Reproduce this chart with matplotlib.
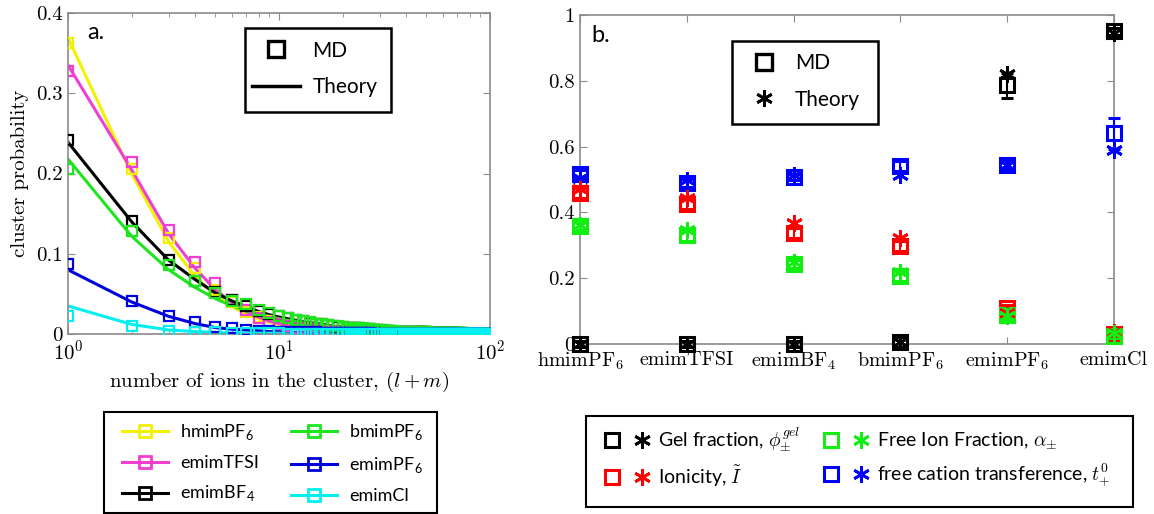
import matplotlib
matplotlib.use('Agg')
import matplotlib.pyplot as plt
from matplotlib.lines import Line2D
from matplotlib.patches import Rectangle
from matplotlib.legend_handler import HandlerTuple

plt.rcParams['mathtext.fontset'] = 'cm'
plt.rcParams['font.family'] = ['Lato', 'DejaVu Sans']
plt.rcParams['axes.formatter.use_mathtext'] = True

# ---------------- panel a data ----------------
ion_names = ['hmimPF$_\\mathregular{6}$', 'emimTFSI', 'emimBF$_\\mathregular{4}$',
             'bmimPF$_\\mathregular{6}$', 'emimPF$_\\mathregular{6}$', 'emimCl']
ion_colors = ['#F2F200', '#F03FD0', '#000000', '#1EE61E', '#0000DD', '#00F0F0']

cluster_n = list(range(1, 101))
md_hmim = [0.362, 0.205, 0.120, 0.082, 0.055, 0.040, 0.028, 0.021, 0.016, 0.012,
           0.010, 0.008, 0.007, 0.006, 0.005, 0.004, 0.004, 0.003, 0.003, 0.002,
           0.002, 0.002, 0.002, 0.002, 0.001, 0.001, 0.001, 0.001, 0.001, 0.001,
           0.001, 0.001, 0.001, 0.001, 0.001, 0.001, 0.001, 0.001, 0.001, 0.001,
           0.001, 0.001, 0.001, 0.001, 0.001, 0.000, 0.000, 0.000, 0.000, 0.000,
           0.000, 0.000, 0.000, 0.000, 0.000, 0.000, 0.000, 0.000, 0.000, 0.000,
           0.000, 0.000, 0.000, 0.000, 0.000, 0.000, 0.000, 0.000, 0.000, 0.000,
           0.000, 0.000, 0.000, 0.000, 0.000, 0.000, 0.000, 0.000, 0.000, 0.000,
           0.000, 0.000, 0.000, 0.000, 0.000, 0.000, 0.000, 0.000, 0.000, 0.000,
           0.000, 0.000, 0.000, 0.000, 0.000, 0.000, 0.000, 0.000, 0.000, 0.000]
md_emimtfsi = [0.328, 0.214, 0.130, 0.090, 0.064, 0.042, 0.030, 0.020, 0.015, 0.012,
               0.010, 0.008, 0.007, 0.006, 0.005, 0.004, 0.004, 0.003, 0.003, 0.003,
               0.002, 0.002, 0.002, 0.002, 0.002, 0.001, 0.001, 0.001, 0.001, 0.001,
               0.001, 0.001, 0.001, 0.001, 0.001, 0.001, 0.001, 0.001, 0.001, 0.001,
               0.001, 0.001, 0.001, 0.001, 0.001, 0.001, 0.001, 0.001, 0.000, 0.000,
               0.000, 0.000, 0.000, 0.000, 0.000, 0.000, 0.000, 0.000, 0.000, 0.000,
               0.000, 0.000, 0.000, 0.000, 0.000, 0.000, 0.000, 0.000, 0.000, 0.000,
               0.000, 0.000, 0.000, 0.000, 0.000, 0.000, 0.000, 0.000, 0.000, 0.000,
               0.000, 0.000, 0.000, 0.000, 0.000, 0.000, 0.000, 0.000, 0.000, 0.000,
               0.000, 0.000, 0.000, 0.000, 0.000, 0.000, 0.000, 0.000, 0.000, 0.000]
md_emimbf4 = [0.242, 0.141, 0.092, 0.066, 0.052, 0.042, 0.035, 0.029, 0.025, 0.022,
              0.020, 0.018, 0.016, 0.014, 0.013, 0.012, 0.011, 0.010, 0.009, 0.009,
              0.008, 0.008, 0.007, 0.007, 0.006, 0.006, 0.006, 0.005, 0.005, 0.005,
              0.004, 0.004, 0.004, 0.004, 0.003, 0.003, 0.003, 0.003, 0.003, 0.003,
              0.002, 0.002, 0.002, 0.002, 0.002, 0.002, 0.002, 0.002, 0.002, 0.002,
              0.001, 0.001, 0.001, 0.001, 0.001, 0.001, 0.001, 0.001, 0.001, 0.001,
              0.001, 0.001, 0.001, 0.001, 0.001, 0.001, 0.001, 0.001, 0.001, 0.001,
              0.001, 0.001, 0.000, 0.000, 0.000, 0.000, 0.000, 0.000, 0.000, 0.000,
              0.000, 0.000, 0.000, 0.000, 0.000, 0.000, 0.000, 0.000, 0.000, 0.000,
              0.000, 0.000, 0.000, 0.000, 0.000, 0.000, 0.000, 0.000, 0.000, 0.000]
md_bmim = [0.206, 0.128, 0.086, 0.066, 0.051, 0.041, 0.037, 0.030, 0.026, 0.022,
           0.020, 0.018, 0.016, 0.015, 0.013, 0.012, 0.011, 0.010, 0.010, 0.009,
           0.008, 0.008, 0.007, 0.007, 0.007, 0.006, 0.006, 0.005, 0.005, 0.005,
           0.005, 0.004, 0.004, 0.004, 0.004, 0.003, 0.003, 0.003, 0.003, 0.003,
           0.003, 0.002, 0.002, 0.002, 0.002, 0.002, 0.002, 0.002, 0.002, 0.002,
           0.002, 0.001, 0.001, 0.001, 0.001, 0.001, 0.001, 0.001, 0.001, 0.001,
           0.001, 0.001, 0.001, 0.001, 0.001, 0.001, 0.001, 0.001, 0.001, 0.001,
           0.001, 0.001, 0.001, 0.001, 0.001, 0.001, 0.000, 0.000, 0.000, 0.000,
           0.000, 0.000, 0.000, 0.000, 0.000, 0.000, 0.000, 0.000, 0.000, 0.000,
           0.000, 0.000, 0.000, 0.000, 0.000, 0.000, 0.000, 0.000, 0.000, 0.000]
md_emimpf6 = [0.087, 0.041, 0.022, 0.015, 0.009, 0.008, 0.005, 0.004, 0.004, 0.003,
              0.003, 0.002, 0.002, 0.002, 0.002, 0.001, 0.001, 0.001, 0.001, 0.001,
              0.001, 0.001, 0.001, 0.001, 0.001, 0.001, 0.001, 0.000, 0.000, 0.000,
              0.000, 0.000, 0.000, 0.000, 0.000, 0.000, 0.000, 0.000, 0.000, 0.000,
              0.000, 0.000, 0.000, 0.000, 0.000, 0.000, 0.000, 0.000, 0.000, 0.000,
              0.000, 0.000, 0.000, 0.000, 0.000, 0.000, 0.000, 0.000, 0.000, 0.000,
              0.000, 0.000, 0.000, 0.000, 0.000, 0.000, 0.000, 0.000, 0.000, 0.000,
              0.000, 0.000, 0.000, 0.000, 0.000, 0.000, 0.000, 0.000, 0.000, 0.000,
              0.000, 0.000, 0.000, 0.000, 0.000, 0.000, 0.000, 0.000, 0.000, 0.000,
              0.000, 0.000, 0.000, 0.000, 0.000, 0.000, 0.000, 0.000, 0.000, 0.000]
md_emimcl = [0.022, 0.010, 0.004, 0.002, 0.002, 0.001, 0.001, 0.001, 0.001, 0.001,
             0.000, 0.000, 0.000, 0.000, 0.000, 0.000, 0.000, 0.000, 0.000, 0.000,
             0.000, 0.000, 0.000, 0.000, 0.000, 0.000, 0.000, 0.000, 0.000, 0.000,
             0.000, 0.000, 0.000, 0.000, 0.000, 0.000, 0.000, 0.000, 0.000, 0.000,
             0.000, 0.000, 0.000, 0.000, 0.000, 0.000, 0.000, 0.000, 0.000, 0.000,
             0.000, 0.000, 0.000, 0.000, 0.000, 0.000, 0.000, 0.000, 0.000, 0.000,
             0.000, 0.000, 0.000, 0.000, 0.000, 0.000, 0.000, 0.000, 0.000, 0.000,
             0.000, 0.000, 0.000, 0.000, 0.000, 0.000, 0.000, 0.000, 0.000, 0.000,
             0.000, 0.000, 0.000, 0.000, 0.000, 0.000, 0.000, 0.000, 0.000, 0.000,
             0.000, 0.000, 0.000, 0.000, 0.000, 0.000, 0.000, 0.000, 0.000, 0.000]

theory_n = [1, 2, 3, 4, 5, 6, 7, 8, 9, 10, 11, 12, 13, 14, 15, 16, 17, 18, 19, 20,
            25, 30, 40, 50, 60, 70, 80, 90, 100]
th_hmim = [0.369, 0.200, 0.115, 0.072, 0.048, 0.034, 0.025, 0.019, 0.015, 0.012,
           0.010, 0.008, 0.007, 0.006, 0.005, 0.004, 0.004, 0.003, 0.003, 0.002,
           0.002, 0.001, 0.001, 0.000, 0.000, 0.000, 0.000, 0.000, 0.000]
th_emimtfsi = [0.335, 0.205, 0.125, 0.082, 0.055, 0.039, 0.028, 0.021, 0.016, 0.013,
               0.010, 0.009, 0.007, 0.006, 0.005, 0.005, 0.004, 0.004, 0.003, 0.003,
               0.002, 0.001, 0.001, 0.000, 0.000, 0.000, 0.000, 0.000, 0.000]
th_emimbf4 = [0.239, 0.140, 0.092, 0.068, 0.051, 0.041, 0.034, 0.028, 0.024, 0.021,
              0.019, 0.017, 0.015, 0.014, 0.013, 0.012, 0.011, 0.010, 0.009, 0.009,
              0.006, 0.005, 0.003, 0.002, 0.001, 0.001, 0.001, 0.000, 0.000]
th_bmim = [0.218, 0.122, 0.080, 0.058, 0.044, 0.035, 0.029, 0.025, 0.022, 0.019,
           0.017, 0.016, 0.014, 0.013, 0.012, 0.011, 0.010, 0.010, 0.009, 0.008,
           0.006, 0.005, 0.003, 0.002, 0.001, 0.001, 0.001, 0.000, 0.000]
th_emimpf6 = [0.080, 0.040, 0.022, 0.013, 0.008, 0.006, 0.005, 0.004, 0.003, 0.003,
              0.002, 0.002, 0.002, 0.001, 0.001, 0.001, 0.001, 0.001, 0.001, 0.001,
              0.000, 0.000, 0.000, 0.000, 0.000, 0.000, 0.000, 0.000, 0.000]
th_emimcl = [0.035, 0.012, 0.005, 0.003, 0.002, 0.001, 0.001, 0.001, 0.001, 0.001,
             0.000, 0.000, 0.000, 0.000, 0.000, 0.000, 0.000, 0.000, 0.000, 0.000,
             0.000, 0.000, 0.000, 0.000, 0.000, 0.000, 0.000, 0.000, 0.000]

md_all = [md_hmim, md_emimtfsi, md_emimbf4, md_bmim, md_emimpf6, md_emimcl]
th_all = [th_hmim, th_emimtfsi, th_emimbf4, th_bmim, th_emimpf6, th_emimcl]

yticks_a = [0, 0.1, 0.2, 0.3, 0.4]
yticklabels_a = ['0', '0.1', '0.2', '0.3', '0.4']

# ---------------- panel b data ----------------
liquids = ['hmimPF$_6$', 'emimTFSI', 'emimBF$_4$', 'bmimPF$_6$', 'emimPF$_6$', 'emimCl']
liquid_pos = [1, 2, 3, 4, 5, 6]

gel_md = [0.000, 0.000, 0.000, 0.005, 0.787, 0.950]
gel_err = [0.010, 0.008, 0.010, 0.015, 0.038, 0.012]
gel_th = [0.000, 0.000, 0.000, 0.005, 0.820, 0.945]

ionicity_md = [0.460, 0.425, 0.337, 0.298, 0.108, 0.030]
ionicity_err = [0.015, 0.015, 0.015, 0.015, 0.012, 0.010]
ionicity_th = [0.470, 0.445, 0.367, 0.322, 0.095, 0.035]

freeion_md = [0.360, 0.330, 0.243, 0.207, 0.088, 0.025]
freeion_err = [0.015, 0.018, 0.012, 0.015, 0.015, 0.010]
freeion_th = [0.362, 0.345, 0.250, 0.218, 0.085, 0.032]

transf_md = [0.518, 0.490, 0.508, 0.540, 0.545, 0.641]
transf_err = [0.012, 0.012, 0.010, 0.015, 0.012, 0.047]
transf_th = [0.505, 0.500, 0.515, 0.514, 0.545, 0.590]

yticks_b = [0, 0.2, 0.4, 0.6, 0.8, 1.0]
yticklabels_b = ['0', '0.2', '0.4', '0.6', '0.8', '1']

W, H = 1154, 514
fig = plt.figure(figsize=(W / 100, H / 100), dpi=100)


def fx(px):
    return px / W


def fy(py):
    return 1 - py / H


spine_col = '#8a8a8a'
star = (6, 2, 0)

# ---------------- panel a ----------------
axa = fig.add_axes([fx(68), fy(334), fx(422), 321 / H])
for i in range(6):
    axa.plot(theory_n, th_all[i], color=ion_colors[i], lw=2.2, zorder=2)
for i in range(6):
    axa.plot(cluster_n, md_all[i], ls='none', marker='s', ms=6.5, mfc='none',
             mec=ion_colors[i], mew=1.6, zorder=3)
axa.set_xscale('log')
axa.set_xlim(1, 100)
axa.set_ylim(0, 0.4)
axa.set_yticks(yticks_a)
axa.set_yticklabels(yticklabels_a)
axa.set_ylabel('cluster probability', family='cmr10', fontsize=15, labelpad=5)
axa.set_xlabel('number of ions in the cluster, $(l+m)$', family='cmr10', fontsize=15,
               labelpad=4)
axa.text(0.045, 0.972, 'a.', transform=axa.transAxes, fontsize=17, va='top')

# ---------------- panel b ----------------
axb = fig.add_axes([fx(580), fy(344), fx(534), 329 / H])
series_b = [(gel_md, gel_err, gel_th, '#000000'),
            (transf_md, transf_err, transf_th, '#0000FF'),
            (ionicity_md, ionicity_err, ionicity_th, '#FF0000'),
            (freeion_md, freeion_err, freeion_th, '#11EE11')]
for md, err, th, col in series_b:
    axb.errorbar(liquid_pos, md, yerr=err, ls='none', marker='s', ms=10, mfc='none',
                 mec=col, mew=2.2, ecolor=col, elinewidth=1.5, capsize=4, zorder=3,
                 clip_on=False)
    axb.plot(liquid_pos, th, ls='none', marker=star, ms=12, mec=col, mew=2.0,
             color=col, zorder=4, clip_on=False)
axb.set_xlim(1, 6)
axb.set_ylim(0, 1)
axb.set_xticks(liquid_pos)
axb.set_xticklabels(liquids)
axb.set_yticks(yticks_b)
axb.set_yticklabels(yticklabels_b)
axb.text(0.022, 0.97, 'b.', transform=axb.transAxes, fontsize=17, va='top')

for ax in (axa, axb):
    for sp in ax.spines.values():
        sp.set_color(spine_col)
        sp.set_linewidth(1.2)
    ax.tick_params(which='both', direction='in', top=True, right=True, color=spine_col,
                   labelsize=15, labelfontfamily='cmr10', pad=4)
    ax.tick_params(which='major', length=5)
    ax.tick_params(which='minor', length=3)
axb.tick_params(axis='x', labelsize=14.5, pad=5)

# ---------------- legends ----------------
def frame(x0, y0, x1, y1, lw=1.8, fill=True):
    fig.patches.append(Rectangle((fx(x0), fy(y1)), fx(x1 - x0), (y1 - y0) / H,
                                 transform=fig.transFigure, fill=fill, fc='white',
                                 ec='k', lw=lw, zorder=4))


md_h = Line2D([], [], ls='none', marker='s', ms=11, mfc='none', mec='k', mew=2.4)
th_line = Line2D([], [], color='k', lw=2.5)
th_star = Line2D([], [], ls='none', marker=star, ms=12, color='k', mew=2.0)
common = dict(frameon=False, borderpad=0, borderaxespad=0, loc='center left')

frame(245, 28, 391, 112)
fig.legend([md_h, th_line], ['MD', 'Theory'], bbox_to_anchor=(fx(252), fy(69)),
           fontsize=15, handlelength=2.3, handletextpad=0.6, labelspacing=0.8,
           **common).set_zorder(6)

frame(732, 41, 878, 124)
fig.legend([md_h, th_star], ['MD', 'Theory'], bbox_to_anchor=(fx(743), fy(81.5)),
           fontsize=15, handlelength=2.0, handletextpad=0.5, labelspacing=0.77,
           **common).set_zorder(6)

frame(104, 412, 437, 513, lw=1.5, fill=False)
ion_handles = [Line2D([], [], color=c, lw=2.2, marker='s', ms=8, mfc='none', mec=c,
                      mew=2.0) for c in ion_colors]
fig.legend(ion_handles, ion_names, ncol=2, bbox_to_anchor=(fx(122), fy(463.5)),
           fontsize=13, handlelength=2.55, handletextpad=0.65, labelspacing=0.7,
           columnspacing=1.8, **common)

frame(586, 416, 1133, 507, lw=1.5, fill=False)
prop_cols = ['#000000', '#FF0000', '#11EE11', '#0000FF']
prop_names = ['Gel fraction, $\\phi_{\\pm}^{gel}$', 'Ionicity, $\\tilde{I}$',
              'Free Ion Fraction, $\\alpha_{\\pm}$',
              'free cation transference, $t_{+}^{0}$']
prop_handles = [(Line2D([], [], ls='none', marker='s', ms=10, mfc='none', mec=c, mew=2.2),
                 Line2D([], [], ls='none', marker=star, ms=12, color=c, mew=2.0))
                for c in prop_cols]
fig.legend(prop_handles, prop_names, ncol=2, bbox_to_anchor=(fx(603), fy(457.5)),
           fontsize=14, handlelength=2.47, handletextpad=0.36, labelspacing=0.5,
           columnspacing=1.13,
           handler_map={tuple: HandlerTuple(ndivide=None, pad=0.62)}, **common)

fig.savefig('out.png', dpi=100)
